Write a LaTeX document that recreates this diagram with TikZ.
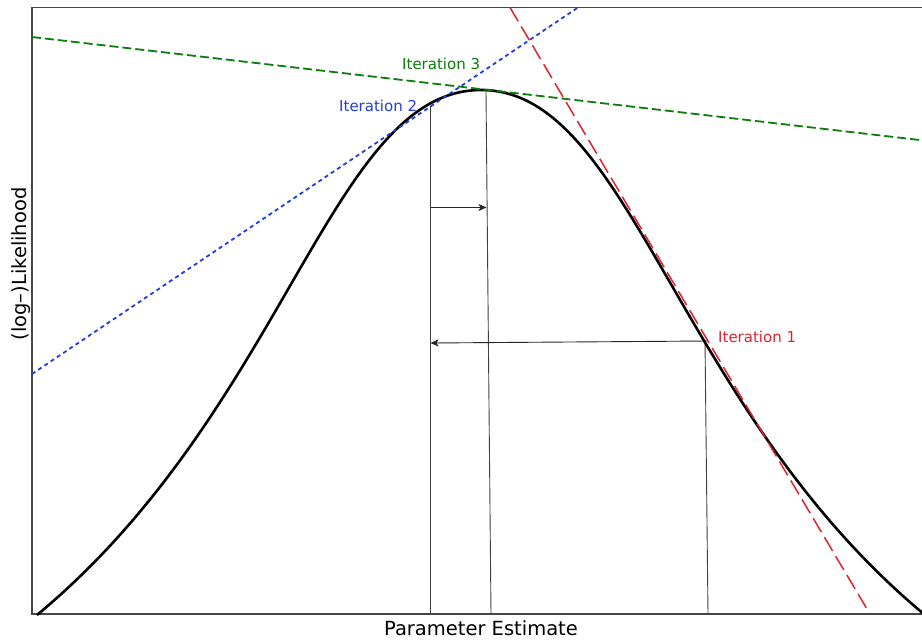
\documentclass[tikz,border=0pt]{standalone}
\usepackage{fontspec}
\setmainfont{DejaVu Sans}
\usetikzlibrary{arrows.meta}
\definecolor{itgreen}{RGB}{10,125,10}
\definecolor{itblue}{RGB}{35,60,225}
\definecolor{itred}{RGB}{225,35,45}
\definecolor{framegray}{RGB}{70,70,70}
\begin{document}
\begin{tikzpicture}[x=1pt,y=-1pt,
  framestyle/.style={draw=framegray,line width=1.4pt},
  curvestyle/.style={draw=black,line width=2.6pt},
  guide/.style={draw=black!75,line width=0.9pt},
  movearrow/.style={draw=black!85,line width=0.9pt,-{Stealth[length=8pt,width=7pt,inset=2pt]}},
  tangreen/.style={draw=itgreen,line width=1.8pt,dash pattern=on 9pt off 4pt},
  tanblue/.style={draw=itblue,line width=1.8pt,dash pattern=on 4pt off 3.5pt},
  tanred/.style={draw=itred,line width=1.5pt,dash pattern=on 16pt off 6pt},
  itlabel/.style={inner sep=0pt,anchor=base west,font=\fontsize{15}{18}\selectfont},
  axislabel/.style={inner sep=0pt,anchor=base,font=\fontsize{19.5}{22}\selectfont}
]
\useasboundingbox (0,0) rectangle (922,641);
\fill[white] (0,0) rectangle (922,641);

% frame
\draw[framestyle] (926,7.5) -- (32,7.5) -- (32,614) -- (926,614);

% named points
\coordinate (cl) at (37,615);
\coordinate (peak) at (481,90);
\coordinate (cr) at (925,615);
\coordinate (it1top) at (705,340);
\coordinate (it1bot) at (708,614);
\coordinate (it2top) at (430,106);
\coordinate (it2bot) at (430,614);
\coordinate (it3top) at (486,91);
\coordinate (it3bot) at (491,614);
\coordinate (a1s) at (707,341);
\coordinate (a1e) at (430.5,343);
\coordinate (a2s) at (430.5,207.5);
\coordinate (a2e) at (486.5,207.5);
\coordinate (g1) at (32,37);
\coordinate (g2) at (924,140.5);
\coordinate (b1) at (32,374);
\coordinate (b2) at (578,7.5);
\coordinate (r1) at (510,7.5);
\coordinate (r2) at (870,614);

% vertical guides
\draw[guide] (it1top) -- (it1bot);
\draw[guide] (it2top) -- (it2bot);
\draw[guide] (it3top) -- (it3bot);

% step arrows
\draw[movearrow] (a1s) -- (a1e);
\draw[movearrow] (a2s) -- (a2e);

% likelihood curve
\draw[curvestyle] (cl) .. controls (287,407.5) and (331,90) .. (peak)
                        .. controls (631,90) and (675,407.5) .. (cr);

% tangents
\draw[tangreen] (g1) -- (g2);
\draw[tanblue] (b1) -- (b2);
\draw[tanred] (r1) -- (r2);

% labels
\node[itlabel,text=itgreen] (l3) at (402,69) {Iteration 3};
\node[itlabel,text=itblue] (l2) at (339,111) {Iteration 2};
\node[itlabel,text=itred] (l1) at (718,342) {Iteration 1};
\node[axislabel] (xlab) at (481,635) {Parameter Estimate};
\node[axislabel,rotate=90] (ylab) at (26.5,264) {(log–)Likelihood};
\end{tikzpicture}
\end{document}
